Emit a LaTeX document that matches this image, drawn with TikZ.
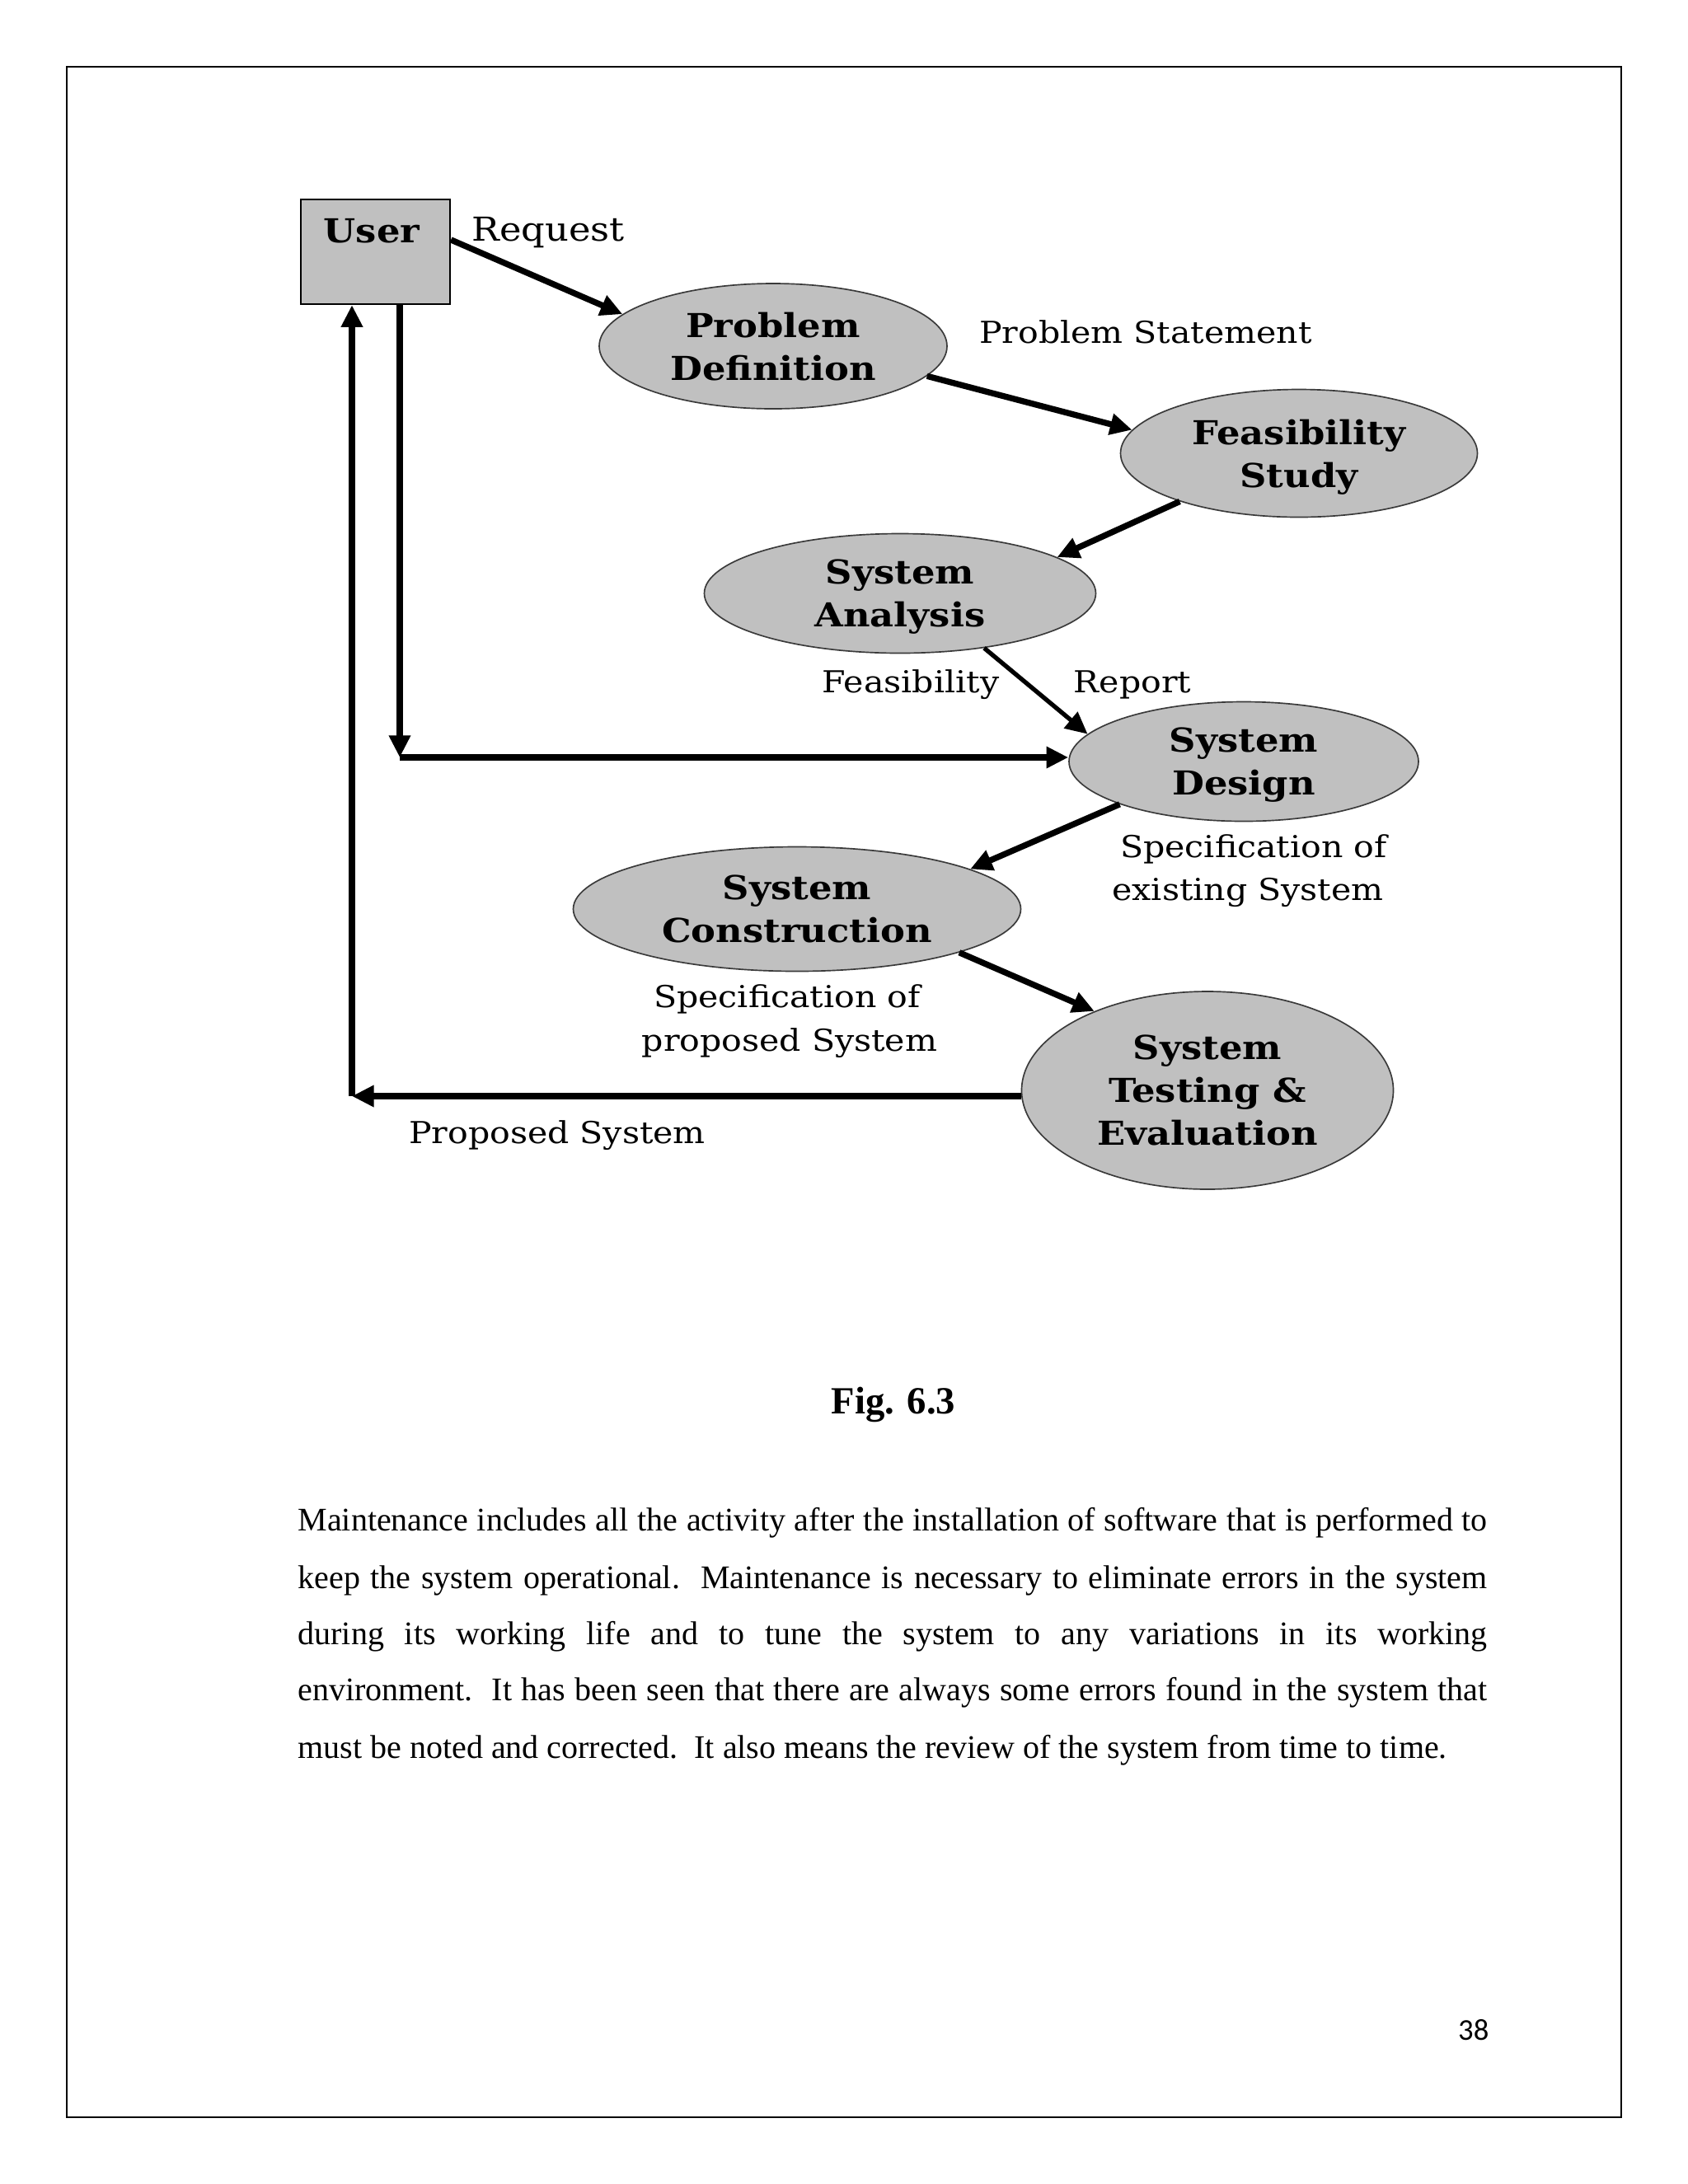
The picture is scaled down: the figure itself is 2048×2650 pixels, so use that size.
\documentclass[tikz,border=0pt]{standalone}
\usepackage{fontspec}
\setmainfont{Liberation Serif}
\newfontfamily\dvs[FakeStretch=1.12]{DejaVu Serif}
\newfontfamily\carl{Carlito}
\usetikzlibrary{arrows.meta,shapes.geometric}
\definecolor{nodegray}{HTML}{C0C0C0}
\definecolor{edgegray}{HTML}{3A3A3A}
\begin{document}
\begin{tikzpicture}[x=0.3pt,y=-0.3pt,
  proc/.style={ellipse, draw=edgegray, line width=0.5pt, fill=nodegray, inner sep=0pt, align=center,
    text depth=0pt, font=\dvs\bfseries\fontsize{12}{15.6}\selectfont},
  userbox/.style={rectangle, draw=black, line width=0.7pt, fill=nodegray,
    minimum width=54.3pt, minimum height=38.1pt, inner sep=0pt},
  lbl/.style={font=\dvs\fontsize{11}{14}\selectfont, inner sep=0pt, anchor=base},
  flow/.style={line width=2.2pt, -{Triangle[length=8pt,width=7.5pt]}},
  para/.style={font=\fontsize{12}{20.7}\selectfont, inner sep=0pt, anchor=base west}
]
\useasboundingbox (0,0) rectangle (2048,2650);
\draw[line width=0.7pt] (81,81) rectangle (1967,2569);

% process nodes
\node[userbox] (user) at (455.5,305.5) {};
\node[font=\dvs\bfseries\fontsize{12}{15}\selectfont, anchor=base, inner sep=0pt] (usertxt) at (451,294) {User};
\node[proc, minimum width=126.6pt, minimum height=45.6pt] (pd) at (938,420) {Problem\\Definition};
\node[proc, minimum width=129.9pt, minimum height=46.5pt] (fs) at (1576,550) {Feasibility\\Study};
\node[proc, minimum width=142.5pt, minimum height=43.5pt] (sa) at (1092,720) {System\\Analysis};
\node[proc, minimum width=127.2pt, minimum height=43.5pt] (sd) at (1509,924) {System\\Design};
\node[proc, minimum width=162.9pt, minimum height=45.3pt] (sc) at (967,1103) {System\\Construction};
\node[proc, minimum width=135.3pt, minimum height=72pt] (st) at (1465,1323) {System\\Testing \&\\Evaluation};

% labels
\node[lbl, font=\dvs\fontsize{12}{14}\selectfont] (req) at (665,292) {Request};
\node[lbl] (pstmt) at (1390,416) {Problem Statement};
\node[lbl] (feas) at (1105,840) {Feasibility};
\node[lbl] (rep) at (1374,840) {Report};
\node[lbl] (spe1) at (1521,1040) {Specification of};
\node[lbl] (spe2) at (1514,1092) {existing System};
\node[lbl] (spp1) at (955,1222) {Specification of};
\node[lbl] (spp2) at (958,1275) {proposed System};
\node[lbl] (props) at (676,1387) {Proposed System};

% connectors
\draw[flow] (user.9) -- (pd.168);
\draw[flow] (pd.-11) -- (fs.172);
\draw[flow] (fs.202) -- (sa.13);
\draw[flow, line width=1.6pt] (sa.-33) -- (sd.170);
\draw[flow] (sd.199) -- (sc.13);
\draw[flow] (sc.-15) -- (st.145);
\coordinate (c1) at (485,919);
\draw[flow] (c1 |- user.south) -- (c1);
\draw[flow] (c1) -- (c1 -| sd.west);
\coordinate (c2) at (427,1330);
\draw[flow] (c2 -| st.west) -- (c2);
\draw[flow] (c2) -- (c2 |- user.south);

% caption and text
\node[font=\bfseries\fontsize{14}{16}\selectfont, anchor=base, inner sep=0pt] (fig) at (1084,1715) {Fig. 6.3};
\node[para] (p1) at (361,1857) {\makebox[432.9pt][s]{Maintenance includes all the activity after the installation of software that is performed to}};
\node[para] (p2) at (361,1927) {\makebox[432.9pt][s]{keep the system operational.\ \ Maintenance is necessary to eliminate errors in the system}};
\node[para] (p3) at (361,1995) {\makebox[432.9pt][s]{during its working life and to tune the system to any variations in its working}};
\node[para] (p4) at (361,2063) {\makebox[432.9pt][s]{environment.\ \ It has been seen that there are always some errors found in the system that}};
\node[para] (p5) at (361,2133) {must be noted and corrected.\ \ It also means the review of the system from time to time.};
\node[font=\carl\fontsize{11}{13}\selectfont, anchor=base east, inner sep=0pt] (pg) at (1807,2475) {38};
\end{tikzpicture}
\end{document}
